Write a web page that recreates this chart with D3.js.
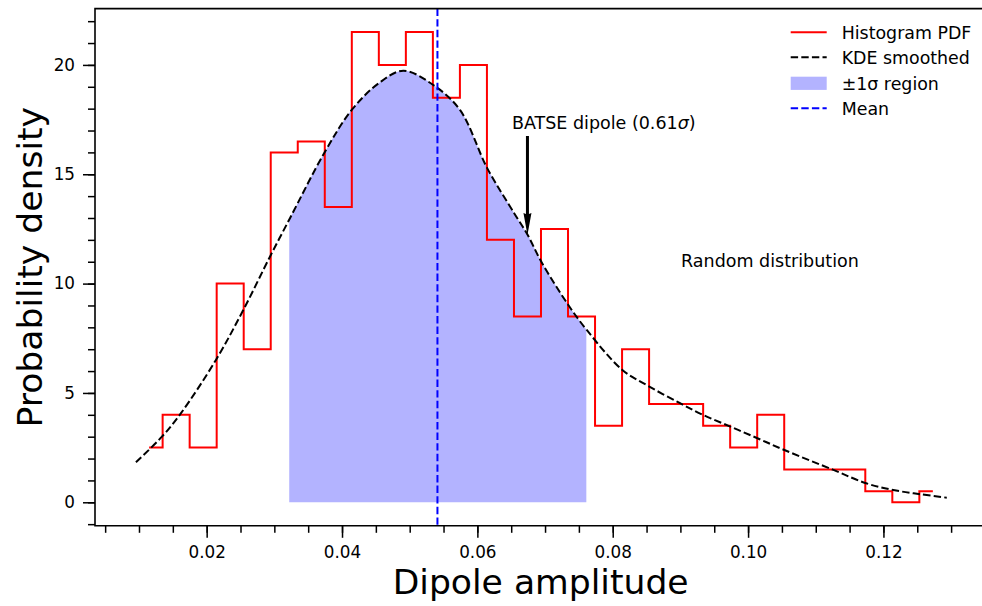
<!DOCTYPE html>
<html><head><meta charset="utf-8">
<script src="https://cdn.jsdelivr.net/npm/d3@7"></script>
<style>body{margin:0;background:#fff;overflow:hidden}svg{display:block;font-family:"DejaVu Sans",sans-serif}</style>
</head><body><svg id="c" width="982" height="606"></svg>
<script>
// ---------- data ----------
const histMin = 0.0095, histMax = 0.1293;
const histValues = [2.5,4.0,2.5,10.0,7.0,16.0,16.5,13.5,21.5,20.0,21.5,18.5,20.0,12.0,8.5,12.5,8.5,3.5,7.0,4.5,4.5,3.5,2.5,4.0,1.5,1.5,1.5,0.5,0.0,0.5];
const kdeX = [0.00955,0.01339,0.01605,0.02137,0.02541,0.02935,0.03231,0.03748,0.04143,0.04542,0.04905,0.05349,0.05743,0.06147,0.06546,0.06744,0.06945,0.07344,0.07616,0.08142,0.08541,0.08995,0.09339,0.09738,0.10137,0.10536,0.11261,0.11744,0.12147,0.12542,0.12936];
const kdeY = [1.83,3.00,4.01,6.51,8.79,11.23,12.99,16.03,17.94,19.16,19.73,19.08,17.94,15.27,13.21,12.22,11.00,9.02,7.88,6.05,5.29,4.53,3.99,3.46,2.93,2.39,1.48,0.87,0.56,0.37,0.21];
const meanValue = 0.0541, sigmaLow = 0.0322, sigmaHigh = 0.0761;
const xMajorTicks = [0.02,0.04,0.06,0.08,0.10,0.12];
const yMajorTicks = [0,5,10,15,20];
const legendLabels = ["Histogram PDF","KDE smoothed","\u00b11\u03c3 region","Mean"];
const arrowX = 0.0674, arrowTailY = 16.75, arrowTipY = 12.22;
const annotX = 0.0651, annotY = 17.05;
const randomX = 0.0901, randomY = 10.75;

// ---------- layout ----------
const L = 95, R = 986.3, T = 8.6, B = 525.8;
const x = d3.scaleLinear().domain([0.0035, 0.1352]).range([L, R]);
const y = d3.scaleLinear().domain([-1.075, 22.575]).range([B, T]);
const svg = d3.select("#c");

const nb = histValues.length, bw = (histMax - histMin) / nb;
const hist = histValues.map((v, i) => [histMin + bw * (i + 0.5), v]);
const kde = kdeX.map((v, i) => [v, kdeY[i]]);

// sigma fill (clipped area under KDE)
svg.append("clipPath").attr("id","sig").append("rect")
  .attr("x", x(sigmaLow)).attr("width", x(sigmaHigh) - x(sigmaLow))
  .attr("y", 0).attr("height", 606);
svg.append("path").datum(kde).attr("clip-path","url(#sig)")
  .attr("fill","#b3b3ff").attr("stroke","none")
  .attr("d", d3.area().x(d=>x(d[0])).y0(y(0)).y1(d=>y(d[1])).curve(d3.curveCatmullRom));

// histogram step
svg.append("path").datum(hist).attr("fill","none").attr("stroke","#ff0000").attr("stroke-width",2)
  .attr("d", d3.line().x(d=>x(d[0])).y(d=>y(d[1])).curve(d3.curveStep));

// KDE
svg.append("path").datum(kde).attr("fill","none").attr("stroke","#000").attr("stroke-width",2)
  .attr("stroke-dasharray","7.4,3.2")
  .attr("d", d3.line().x(d=>x(d[0])).y(d=>y(d[1])).curve(d3.curveCatmullRom));

// mean line
svg.append("line").attr("x1",x(meanValue)).attr("x2",x(meanValue)).attr("y1",T).attr("y2",B)
  .attr("stroke","#0000ff").attr("stroke-width",2).attr("stroke-dasharray","7.4,3.2");

// arrow
const ax = x(arrowX), ay0 = y(arrowTailY), ay1 = y(arrowTipY);
svg.append("path").attr("fill","#000")
  .attr("d", `M${ax-1.5},${ay0} L${ax+1.5},${ay0} L${ax+1.5},${ay1-21} L${ax+4},${ay1-22} L${ax},${ay1} L${ax-4},${ay1-22} L${ax-1.5},${ay1-21} Z`);
const at = svg.append("text").attr("x", x(annotX)).attr("y", y(annotY))
  .attr("font-size", 17.5).attr("fill","#000");
at.append("tspan").text("BATSE dipole (0.61");
at.append("tspan").attr("font-style","italic").text("\u03c3");
at.append("tspan").text(")");
svg.append("text").attr("x", x(randomX)).attr("y", y(randomY))
  .attr("font-size", 17.5).attr("fill","#000").text("Random distribution");

// axes
function styleAxis(g){
  g.select(".domain").remove();
  g.selectAll(".tick line").attr("stroke","#000").attr("stroke-width",1.5);
  g.selectAll(".tick text").attr("font-size",16.8).attr("font-family","DejaVu Sans").attr("fill","#000");
}
svg.append("g").attr("transform",`translate(0,${B})`)
  .call(d3.axisBottom(x).tickValues(d3.range(1,28).map(k=>k*0.005)).tickSize(7).tickFormat(""))
  .call(styleAxis);
svg.append("g").attr("transform",`translate(0,${B})`)
  .call(d3.axisBottom(x).tickValues(xMajorTicks).tickSize(12).tickPadding(8).tickFormat(d3.format(".2f")))
  .call(styleAxis);
svg.append("g").attr("transform",`translate(${L},0)`)
  .call(d3.axisLeft(y).tickValues(d3.range(-1,23)).tickSize(7).tickFormat(""))
  .call(styleAxis);
svg.append("g").attr("transform",`translate(${L},0)`)
  .call(d3.axisLeft(y).tickValues(yMajorTicks).tickSize(12).tickPadding(8).tickFormat(d3.format("d")))
  .call(styleAxis);

// spines
svg.append("path").attr("fill","none").attr("stroke","#000").attr("stroke-width",1.6)
  .attr("d", `M${R},${T} L${L},${T} L${L},${B} L${R},${B}`);

// axis labels
svg.append("text").attr("x",(L+R)/2).attr("y",594.3).attr("text-anchor","middle")
  .attr("font-size",34.6).text("Dipole amplitude");
svg.append("text").attr("transform",`translate(42,${(T+B)/2}) rotate(-90)`).attr("text-anchor","middle")
  .attr("font-size",34.6).text("Probability density");

// legend
const lg = svg.append("g");
const rows = [32.3, 57.3, 83.3, 108.3];
const lx0 = 790.7, lx1 = 826.7;
lg.append("line").attr("x1",lx0).attr("x2",lx1).attr("y1",rows[0]).attr("y2",rows[0]).attr("stroke","#ff0000").attr("stroke-width",2);
lg.append("line").attr("x1",lx0).attr("x2",lx1).attr("y1",rows[1]).attr("y2",rows[1]).attr("stroke","#000").attr("stroke-width",2).attr("stroke-dasharray","7.4,3.2");
lg.append("rect").attr("x",lx0).attr("y",rows[2]-6.6).attr("width",lx1-lx0).attr("height",13.2).attr("fill","#b3b3ff");
lg.append("line").attr("x1",lx0).attr("x2",lx1).attr("y1",rows[3]).attr("y2",rows[3]).attr("stroke","#0000ff").attr("stroke-width",2).attr("stroke-dasharray","7.4,3.2");
legendLabels.forEach((t,i)=>{
  lg.append("text").attr("x",841.7).attr("y",rows[i]+6.2).attr("font-size",17.4).attr("fill","#000").text(t);
});
</script></body></html>
